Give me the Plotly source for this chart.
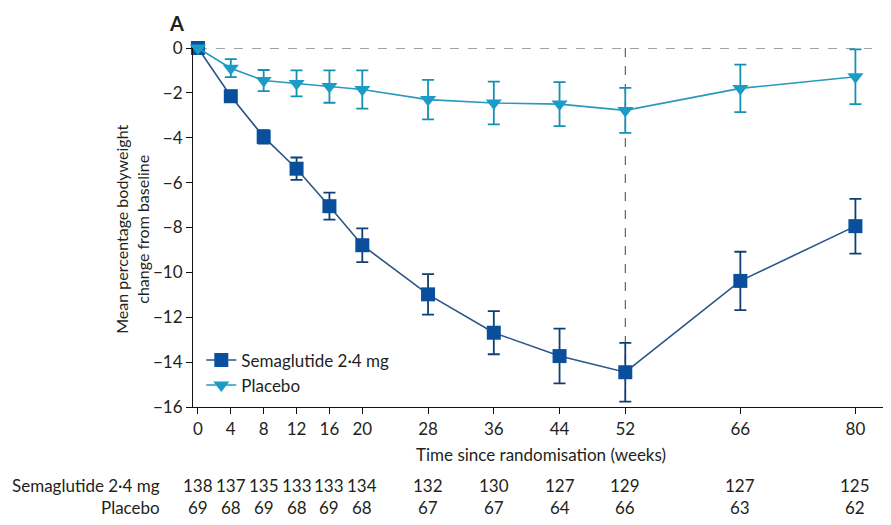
import plotly.graph_objects as go

weeks = [0, 4, 8, 12, 16, 20, 28, 36, 44, 52, 66, 80]
week_labels = ["0", "4", "8", "12", "16", "20", "28", "36", "44", "52", "66", "80"]

sema_mean = [0, -2.15, -3.96, -5.38, -7.05, -8.79, -10.98, -12.69, -13.73, -14.45, -10.38, -7.94]
sema_err = [0, 0.25, 0.3, 0.5, 0.6, 0.75, 0.9, 0.96, 1.22, 1.31, 1.3, 1.22]

plac_mean = [0, -0.9, -1.45, -1.58, -1.72, -1.85, -2.3, -2.45, -2.5, -2.78, -1.8, -1.28]
plac_err = [0, 0.4, 0.47, 0.58, 0.72, 0.85, 0.88, 0.95, 0.98, 1.0, 1.06, 1.22]

n_sema = [138, 137, 135, 133, 133, 134, 132, 130, 127, 129, 127, 125]
n_plac = [69, 68, 69, 68, 69, 68, 67, 67, 64, 66, 63, 62]

y_ticks = [0, -2, -4, -6, -8, -10, -12, -14, -16]
y_ticktext = ["0" if v == 0 else "\u2212" + str(abs(v)) for v in y_ticks]

FONT = "Lato"
FS = 17
TXT = "#231f20"
SEMA_MARK = "#0a4f9c"
SEMA_LINE = "#2b5587"
SEMA_ERR = "#0f3f73"
PLAC_MARK = "#1a9cc6"
PLAC_LINE = "#2a98bf"
PLAC_ERR = "#1590b5"

fig = go.Figure()

fig.add_trace(go.Scatter(
    x=weeks, y=sema_mean, mode="lines+markers", name="Semaglutide 2\u00b74 mg",
    line=dict(color=SEMA_LINE, width=1.6),
    marker=dict(symbol="square", size=14, color=SEMA_MARK),
    error_y=dict(type="data", array=sema_err, visible=True, color=SEMA_ERR,
                 thickness=1.8, width=6),
    cliponaxis=False,
))
fig.add_trace(go.Scatter(
    x=weeks, y=plac_mean, mode="lines+markers", name="Placebo",
    line=dict(color=PLAC_LINE, width=1.6),
    marker=dict(symbol="triangle-down", size=14, color=PLAC_MARK),
    error_y=dict(type="data", array=plac_err, visible=True, color=PLAC_ERR,
                 thickness=1.8, width=6),
    cliponaxis=False,
))

# reference dashed lines
fig.add_shape(type="line", xref="x", yref="y", x0=0, x1=82, y0=0, y1=0,
              line=dict(color="#444", width=1, dash="dash"), layer="below")
fig.add_shape(type="line", xref="x", yref="y", x0=52, x1=52, y0=0, y1=-16,
              line=dict(color="#444", width=1, dash="dash"), layer="below")

def tfont(size=FS):
    return dict(size=size, color=TXT, family=FONT)

annotations = []
# number-at-risk table
row_y = [-0.218, -0.279]
annotations.append(dict(text="Semaglutide 2\u00b74 mg", xref="paper", yref="paper",
                        x=-0.045, y=row_y[0], xanchor="right", yanchor="middle",
                        showarrow=False, font=tfont()))
annotations.append(dict(text="Placebo", xref="paper", yref="paper",
                        x=-0.045, y=row_y[1], xanchor="right", yanchor="middle",
                        showarrow=False, font=tfont()))
for w, a, b in zip(weeks, n_sema, n_plac):
    annotations.append(dict(text=str(a), xref="x", yref="paper", x=w, y=row_y[0],
                            xanchor="center", yanchor="middle", showarrow=False,
                            font=tfont()))
    annotations.append(dict(text=str(b), xref="x", yref="paper", x=w, y=row_y[1],
                            xanchor="center", yanchor="middle", showarrow=False,
                            font=tfont()))

annotations.append(dict(text="Time since randomisation (weeks)", xref="paper", yref="paper",
                        x=0.503, y=-0.131, xanchor="center", yanchor="middle",
                        showarrow=False, font=tfont()))
annotations.append(dict(text="Mean percentage bodyweight<br>change from baseline",
                        xref="paper", yref="paper", x=-0.088, y=0.494, textangle=-90,
                        xanchor="center", yanchor="middle", showarrow=False,
                        font=tfont(16)))
annotations.append(dict(text="<b>A</b>", xref="paper", yref="paper", x=-0.024, y=1.07,
                        xanchor="center", yanchor="middle", showarrow=False,
                        font=tfont(20)))

# page body has an 8px margin, so the figure is offset accordingly
fig.update_layout(
    width=883, height=517,
    margin=dict(l=185, r=6, t=40, b=118),
    paper_bgcolor="white", plot_bgcolor="white",
    font=tfont(),
    showlegend=True,
    legend=dict(x=0.012, y=0.18, xanchor="left", yanchor="top",
                bgcolor="rgba(0,0,0,0)", font=tfont(),
                tracegroupgap=0, itemwidth=30),
    annotations=annotations,
    xaxis=dict(range=[-0.6, 83.6], tickvals=weeks, ticktext=week_labels,
               showline=True, linecolor="#111", linewidth=1.2, ticks="outside",
               ticklen=6, tickcolor="#111", tickwidth=1.2, showgrid=False,
               zeroline=False, tickfont=tfont()),
    yaxis=dict(range=[-16, 0], tickvals=y_ticks, ticktext=y_ticktext,
               showline=True, linecolor="#111", linewidth=1.2, ticks="outside",
               ticklen=6, tickcolor="#111", tickwidth=1.2, showgrid=False,
               zeroline=False, tickfont=tfont()),
)

fig.write_html("out.html")
